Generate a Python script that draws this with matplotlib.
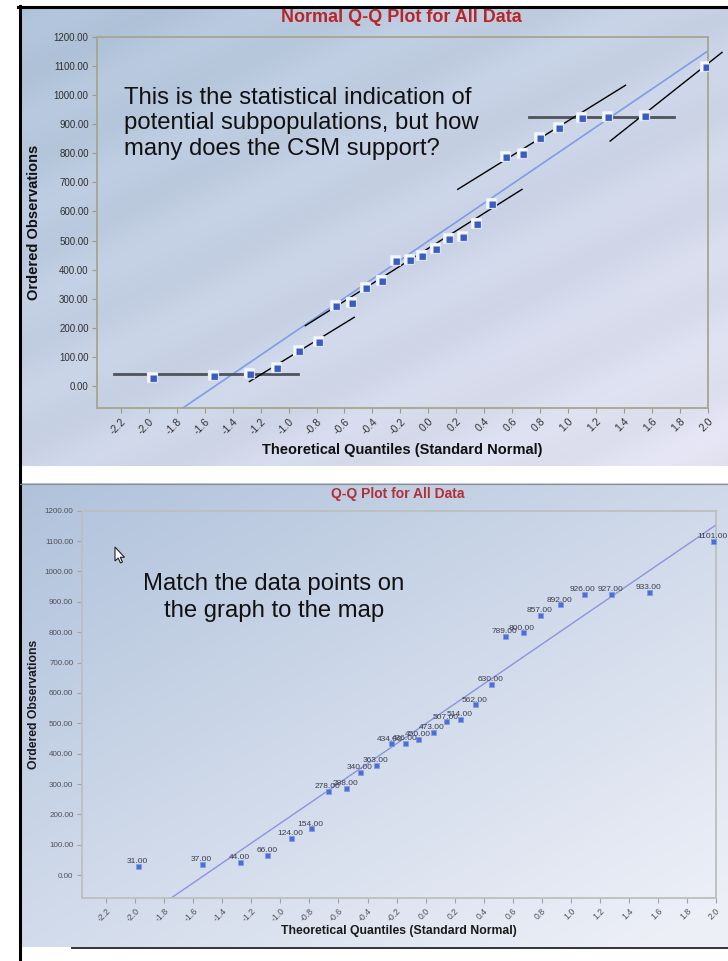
import numpy as np
import matplotlib.pyplot as plt
from matplotlib.patches import Polygon
from matplotlib.path import Path
from matplotlib.lines import Line2D

plt.rcParams['font.family'] = ['Liberation Sans', 'DejaVu Sans']

# ordered observations and their normal scores
observations = [31, 37, 44, 66, 124, 154, 278, 288, 340, 363, 434, 436, 450,
                473, 507, 514, 562, 630, 789, 800, 857, 892, 926, 927, 933, 1101]
normal_scores = [-1.98, -1.54, -1.28, -1.09, -0.93, -0.79, -0.67, -0.55, -0.45,
                 -0.34, -0.24, -0.14, -0.05, 0.05, 0.14, 0.24, 0.34, 0.45,
                 0.55, 0.67, 0.79, 0.93, 1.09, 1.28, 1.54, 1.98]

# reference line: observation = line_mean + line_sd * z
line_mean = 498.3
line_sd = 327.0

x_ticks = [-2.2, -2.0, -1.8, -1.6, -1.4, -1.2, -1.0, -0.8, -0.6, -0.4, -0.2,
           0.0, 0.2, 0.4, 0.6, 0.8, 1.0, 1.2, 1.4, 1.6, 1.8, 2.0]
y_ticks = [0, 100, 200, 300, 400, 500, 600, 700, 800, 900, 1000, 1100, 1200]

# hand-drawn subpopulation trends on the upper chart: (z0, y0, z1, y1)
sketch_slopes = [(-1.28, 15, -0.53, 236),
                 (-0.88, 207, 0.67, 676),
                 (0.21, 676, 1.41, 1034),
                 (1.30, 842, 2.10, 1147)]
# flat plateaus: (z0, z1, level)
sketch_levels = [(-2.25, -0.93, 42), (0.72, 1.76, 925)]

W, H = 728, 961
fig = plt.figure(figsize=(W / 100, H / 100), dpi=100)
fig.patch.set_facecolor('white')


def rect(x0, y0, x1, y1):
    # pixel box (top-left origin) -> figure fraction
    return [x0 / W, 1 - y1 / H, (x1 - x0) / W, (y1 - y0) / H]


def panel_background(box, c0, c1, stripes):
    bg = fig.add_axes(rect(*box), zorder=0)
    yy, xx = np.mgrid[0:1:240j, 0:1:360j]
    t = np.clip(0.5 * xx + 0.55 * yy, 0, 1)
    c0, c1 = np.array(c0), np.array(c1)
    img = c0 + (c1 - c0) * t[..., None]
    if stripes:
        band = np.sin(2 * np.pi * 5 * (yy + 0.73 * xx))
        img = img + stripes * band[..., None]
    bg.imshow(np.clip(img, 0, 1), aspect='auto', extent=(0, 1, 0, 1),
              interpolation='bilinear')
    bg.axis('off')


def style_axes(ax, spine_col, tick_col, label_col, fs):
    ax.set_facecolor('none')
    ax.set_xlim(-2.37, 2.0)
    ax.set_ylim(-76, 1200)
    ax.set_xticks(x_ticks)
    ax.set_yticks(y_ticks)
    ax.set_yticklabels([f'{v:.2f}' for v in y_ticks], fontsize=fs, color=label_col)
    ax.set_xticklabels([f'{v:.1f}' for v in x_ticks], fontsize=fs + 0.5,
                       color=label_col, rotation=45, ha='right',
                       rotation_mode='anchor')
    ax.tick_params(length=3.5, width=0.8, color=tick_col, pad=2.5)
    for s in ax.spines.values():
        s.set_color(spine_col)
        s.set_linewidth(1.3)


z_line = np.array([-2.37, 2.0])

# ---------------------------------------------------------------- upper chart
panel_background((20, 8, 728, 466), (0.68, 0.76, 0.85), (0.89, 0.89, 0.95), 0.012)
ax1 = fig.add_axes(rect(97, 37, 708, 408), zorder=2)
style_axes(ax1, '#a6a68c', '#9c9c80', '#303030', 7)

ax1.plot(z_line, line_mean + line_sd * z_line, color='#7e9de6', lw=1.2, zorder=2)

for z0, z1, lev in sketch_levels:
    ax1.plot([z0, z1], [lev, lev], color='#4e535c', lw=2.0, zorder=3, clip_on=False)
for z0, y0, z1, y1 in sketch_slopes:
    ax1.plot([z0, z1], [y0, y1], color='black', lw=1.0, zorder=4, clip_on=False)

# bevelled square markers
corner = Path([(-1, 1), (1, 1), (1, 0.45), (-0.45, 0.45), (-0.45, -1), (-1, -1), (-1, 1)])
ax1.plot(normal_scores, observations, ls='none', marker='s', ms=6.6,
         mfc='#3a5cc0', mec='#d8e2f6', mew=0.9, zorder=5)
ax1.plot(normal_scores, observations, ls='none', marker=corner, ms=6.6,
         mfc='#f4f7fd', mec='none', zorder=6)

ax1.set_xlabel('Theoretical Quantiles (Standard Normal)', fontsize=10.5,
               fontweight='bold', color='#111111')
ax1.xaxis.set_label_coords(0.5, -0.095)
ax1.set_ylabel('Ordered Observations', fontsize=10.5, fontweight='bold',
               color='#111111')
ax1.yaxis.set_label_coords(-0.092, 0.5)

fig.text(401 / W, 1 - 17 / H, 'Normal Q-Q Plot for All Data', ha='center',
         va='center', fontsize=13, fontweight='bold', color='#b8262a')
fig.text(124 / W, 1 - 87 / H,
         'This is the statistical indication of\n'
         'potential subpopulations, but how\n'
         'many does the CSM support?',
         ha='left', va='top', fontsize=17.2, color='#111111', linespacing=1.2,
         zorder=10)

# ---------------------------------------------------------------- lower chart
panel_background((20, 483, 728, 947), (0.69, 0.76, 0.86), (0.93, 0.94, 0.97), 0.0)
ax2 = fig.add_axes(rect(81.7, 510.7, 715.7, 898.3), zorder=2)
style_axes(ax2, '#bcc0bc', '#a0a4a8', '#505058', 5.8)

ax2.plot(z_line, line_mean + line_sd * z_line, color='#8a95dc', lw=1.0, zorder=2)
ax2.plot(normal_scores, observations, ls='none', marker='s', ms=3.6,
         mfc='#4a6fd8', mec='#7f9ae6', mew=0.5, zorder=4)
for z, v in zip(normal_scores, observations):
    ax2.annotate(f'{v:.2f}', (z, v), xytext=(-0.5, 0.5), textcoords='offset points',
                 ha='center', va='bottom', fontsize=6, color='#3c3c4c',
                 zorder=5, annotation_clip=False)

ax2.set_xlabel('Theoretical Quantiles (Standard Normal)', fontsize=8.8,
               fontweight='bold', color='#1a1a1a')
ax2.xaxis.set_label_coords(0.5, -0.07)
ax2.set_ylabel('Ordered Observations', fontsize=8.8, fontweight='bold',
               color='#1a1a1a')
ax2.yaxis.set_label_coords(-0.066, 0.5)

fig.text(398 / W, 1 - 494 / H, 'Q-Q Plot for All Data', ha='center',
         va='center', fontsize=10, fontweight='bold', color='#b03038')
fig.text(274 / W, 1 - 573 / H, 'Match the data points on\nthe graph to the map',
         ha='center', va='top', fontsize=17.2, color='#111111', linespacing=1.3,
         zorder=10)

# mouse pointer left on the lower chart
cursor = np.array([(0, 0), (0, 14), (3.2, 11), (5.5, 16), (7.5, 15), (5.3, 10.3),
                   (9.5, 10.3)]) + np.array([115, 547])
fig.patches.append(Polygon([(x / W, 1 - y / H) for x, y in cursor], closed=True,
                           transform=fig.transFigure, facecolor='white',
                           edgecolor='#222222', lw=0.8, zorder=20))

# frame edges around the two panels
fig.add_artist(Line2D([18 / W, 1], [1 - 7 / H, 1 - 7 / H], color='black', lw=2.2))
fig.add_artist(Line2D([19.5 / W, 19.5 / W], [0, 1 - 6 / H], color='black', lw=2.2))
fig.add_artist(Line2D([20 / W, 1], [1 - 483.5 / H, 1 - 483.5 / H], color='#8c8c8c', lw=0.8))
fig.add_artist(Line2D([72 / W, 1], [1 - 947.5 / H, 1 - 947.5 / H], color='#333333', lw=1.4))

fig.savefig('out.png', dpi=100)
